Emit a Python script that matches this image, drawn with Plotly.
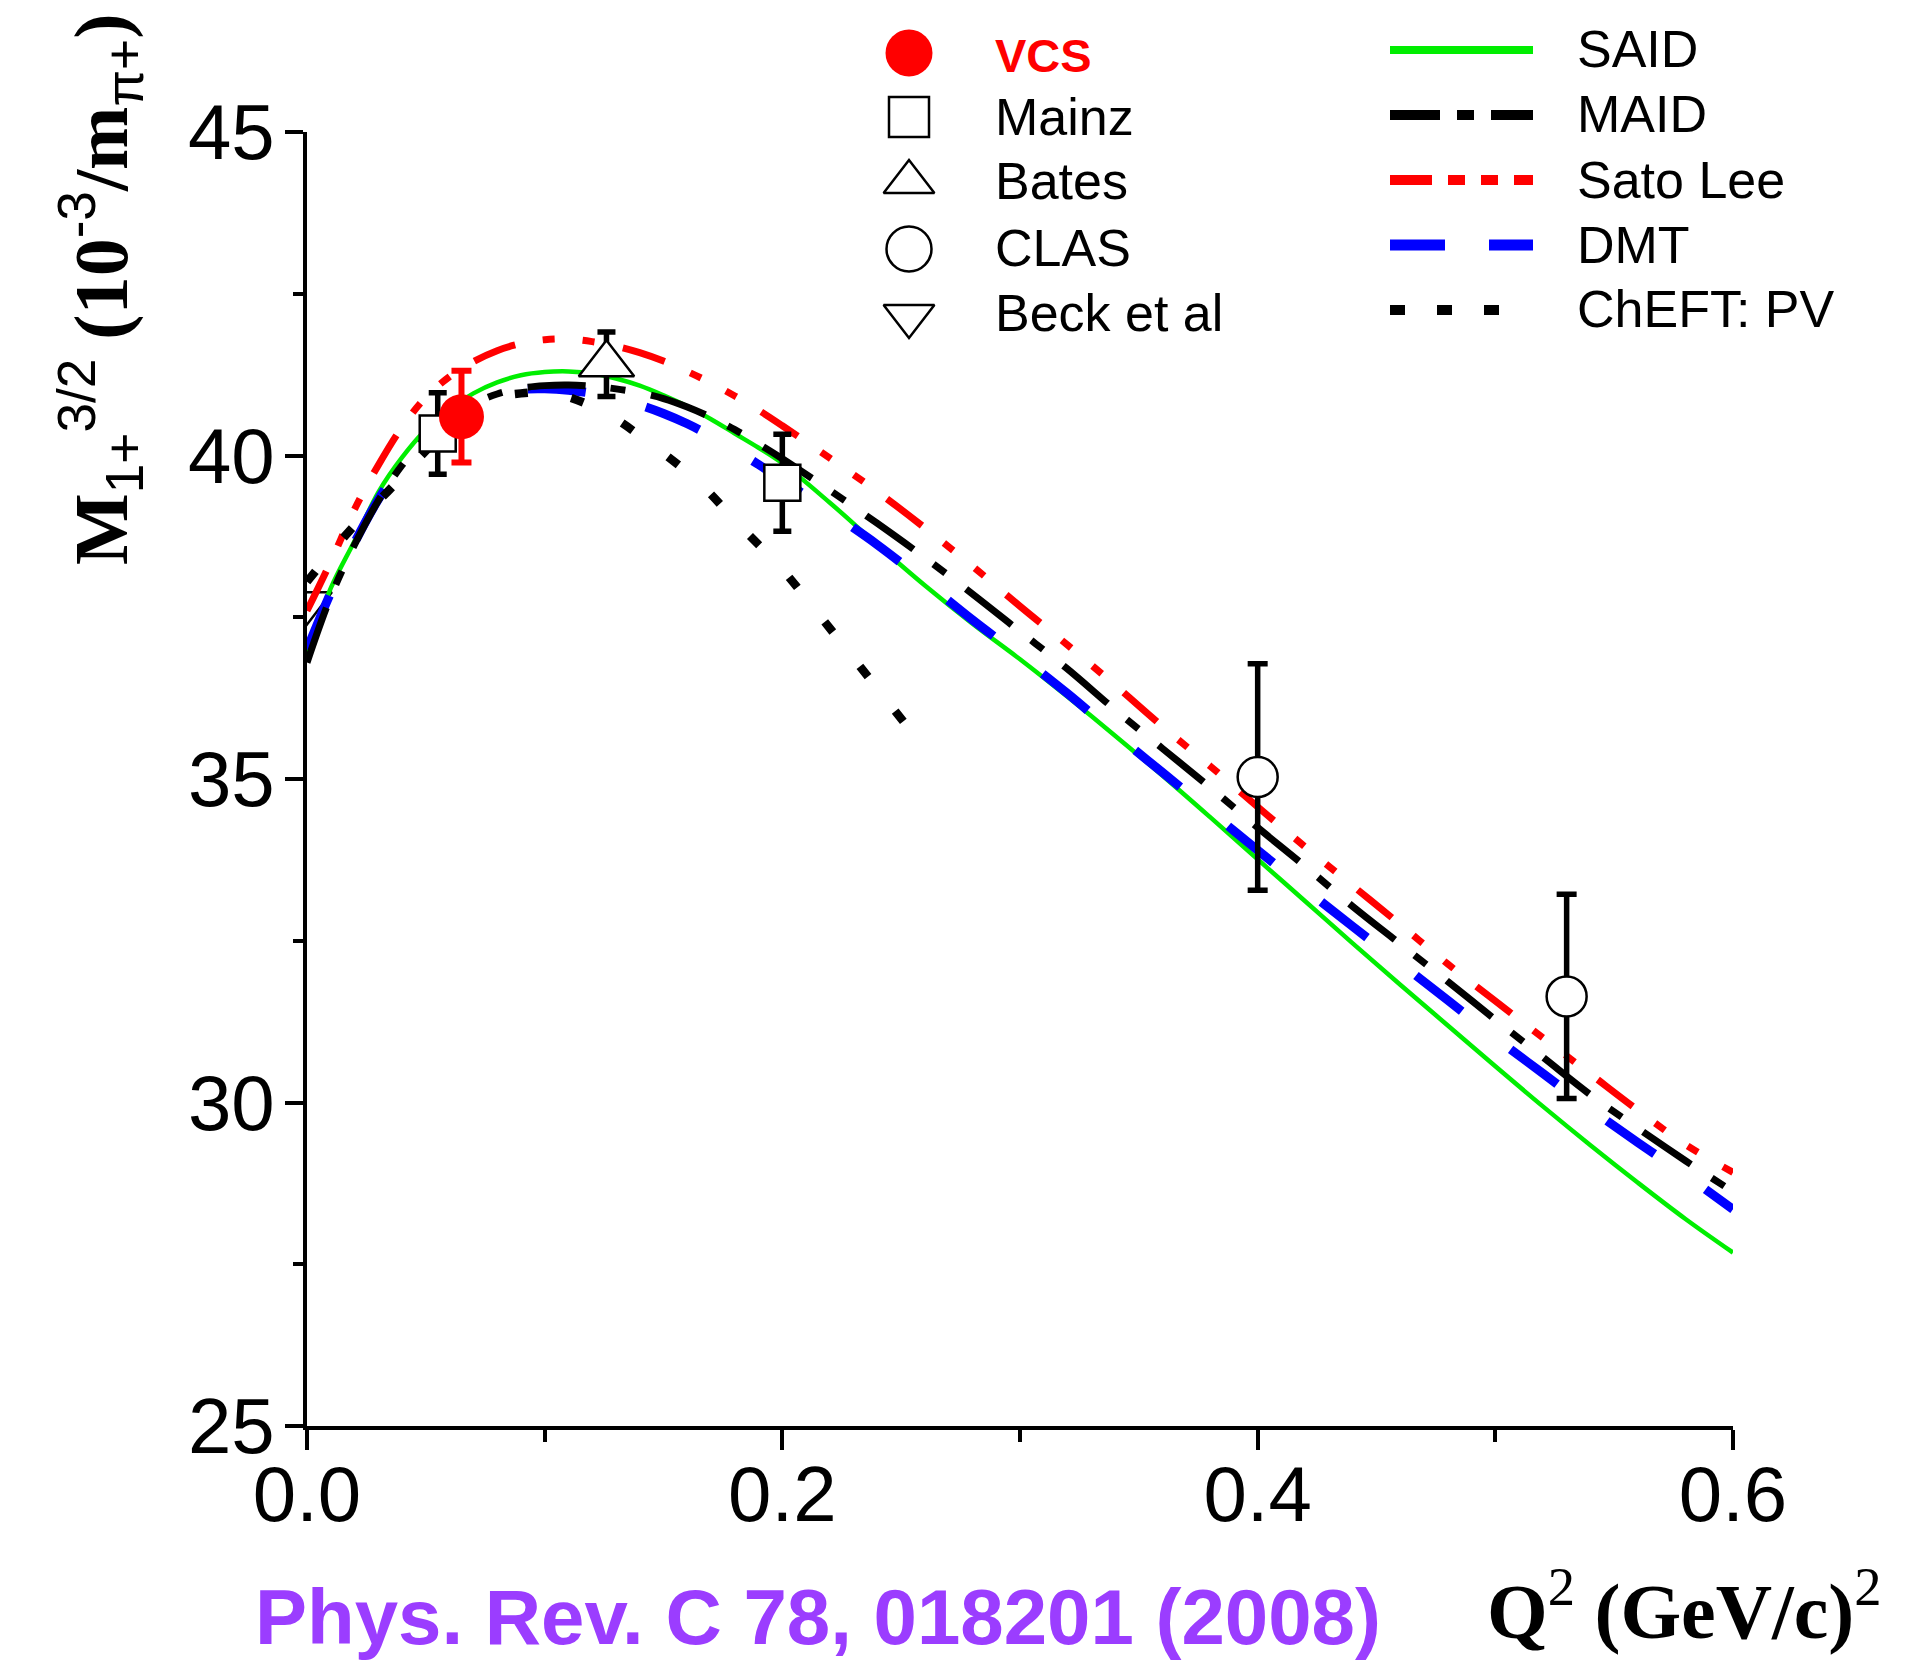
import plotly.graph_objects as go

W, H = 1932, 1671

# ---------------- data ----------------
# Q^2 grid (GeV/c)^2 for the model curves
q_model = [0.00, 0.01, 0.02, 0.03, 0.04, 0.05, 0.06, 0.07, 0.08, 0.09, 0.10,
           0.11, 0.12, 0.13, 0.14, 0.15, 0.16, 0.17, 0.18, 0.19, 0.20,
           0.22, 0.24, 0.26, 0.28, 0.30, 0.32, 0.34, 0.36, 0.38, 0.40,
           0.42, 0.44, 0.46, 0.48, 0.50, 0.52, 0.54, 0.56, 0.58, 0.60]

said = [36.95, 37.95, 38.68, 39.43, 39.97, 40.40, 40.72, 40.96, 41.13, 41.24, 41.29,
        41.30, 41.27, 41.19, 41.08, 40.93, 40.76, 40.56, 40.34, 40.12, 39.88,
        39.27, 38.62, 37.99, 37.40, 36.85, 36.27, 35.67, 35.05, 34.41, 33.76,
        33.11, 32.46, 31.82, 31.19, 30.56, 29.94, 29.34, 28.76, 28.20, 27.68]

maid = [36.80, 37.82, 38.62, 39.30, 39.85, 40.27, 40.58, 40.80, 40.95, 41.04, 41.08,
        41.09, 41.07, 41.03, 40.97, 40.88, 40.75, 40.59, 40.40, 40.18, 39.95,
        39.46, 38.95, 38.42, 37.86, 37.28, 36.70, 36.07, 35.47, 34.87, 34.25,
        33.65, 33.03, 32.45, 31.87, 31.28, 30.70, 30.12, 29.60, 29.10, 28.62]

sato_lee = [37.60, 38.36, 39.17, 39.85, 40.44, 40.90, 41.22, 41.45, 41.62, 41.73, 41.79,
            41.80, 41.76, 41.69, 41.59, 41.46, 41.30, 41.12, 40.92, 40.70, 40.46,
            39.96, 39.44, 38.88, 38.29, 37.67, 37.07, 36.45, 35.81, 35.20, 34.57,
            33.95, 33.35, 32.75, 32.14, 31.57, 31.00, 30.44, 29.88, 29.35, 28.92]

dmt = [37.00, 37.88, 38.65, 39.32, 39.86, 40.27, 40.58, 40.80, 40.95, 41.02, 41.03,
       41.01, 40.96, 40.88, 40.78, 40.65, 40.49, 40.30, 40.09, 39.86, 39.62,
       39.13, 38.62, 38.05, 37.46, 36.90, 36.32, 35.70, 35.10, 34.50, 33.90,
       33.30, 32.72, 32.15, 31.58, 31.00, 30.45, 29.90, 29.38, 28.88, 28.35]

q_cheft = [0.000, 0.018, 0.036, 0.046, 0.060, 0.076, 0.090, 0.105,
           0.125, 0.145, 0.165, 0.182, 0.199, 0.215, 0.232, 0.252]
cheft_pv = [38.05, 38.84, 39.52, 39.92, 40.42, 40.85, 40.96, 40.95,
            40.67, 40.17, 39.58, 38.92, 38.28, 37.56, 36.77, 35.84]

# measurements
q_vcs, m_vcs, e_vcs = [0.065], [40.60], [0.71]
q_mainz, m_mainz, e_mainz = [0.055, 0.200], [40.34, 39.58], [0.63, 0.75]
q_bates, m_bates, e_bates = [0.126], [41.41], [0.50]
q_clas, m_clas, e_clas = [0.400, 0.530], [35.03, 31.64], [1.75, 1.58]
q_beck, m_beck = [0.0], [37.72]

x_tickvals = [0.0, 0.2, 0.4, 0.6]
x_ticktext = ["0.0", "0.2", "0.4", "0.6"]
y_tickvals = [25, 30, 35, 40, 45]
y_ticktext = ["25", "30", "35", "40", "45"]

SANS = "Liberation Sans, Arial, sans-serif"
SERIF = "Liberation Serif, Times New Roman, serif"

GREEN, BLUE, RED, BLACK = "#00ee00", "#0000ff", "#ff0000", "#000000"

fig = go.Figure()

# photoproduction point sits under the curves
fig.add_trace(go.Scatter(
    x=q_beck, y=m_beck, mode="markers",
    marker=dict(symbol="triangle-down", size=43, color="white",
                line=dict(color=BLACK, width=2.5))))

# model curves
fig.add_trace(go.Scatter(x=q_model, y=said, mode="lines",
                         line=dict(color=GREEN, width=4.5, shape="spline")))
fig.add_trace(go.Scatter(x=q_model, y=dmt, mode="lines",
                         line=dict(color=BLUE, width=9, shape="spline",
                                   dash="58px,62px")))
fig.add_trace(go.Scatter(x=q_model, y=sato_lee, mode="lines",
                         line=dict(color=RED, width=7, shape="spline",
                                   dash="44px,28px,12px,28px,12px,29px")))
fig.add_trace(go.Scatter(x=q_model, y=maid, mode="lines",
                         line=dict(color=BLACK, width=7, shape="spline",
                                   dash="58px,25px,15px,26px")))
fig.add_trace(go.Scatter(x=q_cheft, y=cheft_pv, mode="lines",
                         line=dict(color=BLACK, width=8.5, shape="spline",
                                   dash="13px,44px")))

# measurements with error bars
fig.add_trace(go.Scatter(
    x=q_mainz, y=m_mainz, mode="markers",
    error_y=dict(type="data", array=e_mainz, color=BLACK, thickness=5.5, width=9),
    marker=dict(symbol="square", size=36, color="white",
                line=dict(color=BLACK, width=2.5))))
fig.add_trace(go.Scatter(
    x=q_bates, y=m_bates, mode="markers",
    error_y=dict(type="data", array=e_bates, color=BLACK, thickness=5.5, width=9),
    marker=dict(symbol="triangle-up", size=48, color="white",
                line=dict(color=BLACK, width=2.5))))
fig.add_trace(go.Scatter(
    x=q_clas, y=m_clas, mode="markers",
    error_y=dict(type="data", array=e_clas, color=BLACK, thickness=5.5, width=10),
    marker=dict(symbol="circle", size=40, color="white",
                line=dict(color=BLACK, width=2.5))))
fig.add_trace(go.Scatter(
    x=q_vcs, y=m_vcs, mode="markers",
    error_y=dict(type="data", array=e_vcs, color=RED, thickness=6, width=10),
    marker=dict(symbol="circle", size=45, color=RED, line=dict(width=0))))

# ---------------- key (drawn on a full-page pixel axis pair) ----------------
key_marker_x = 909
key_text_left_x = 993
key_line_x0 = 1390
key_text_right_x = 1575

left_key = [
    # label, symbol, size, fill, text colour, marker y, text y, bold
    ("VCS", "circle", 47, RED, RED, 53, 55, True),
    ("Mainz", "square", 40, "white", BLACK, 117, 117, False),
    ("Bates", "triangle-up", 44, "white", BLACK, 182, 181, False),
    ("CLAS", "circle", 45, "white", BLACK, 249, 248, False),
    ("Beck et al", "triangle-down", 44, "white", BLACK, 316, 313, False),
]
right_key = [
    # label, colour, width, dash, line y, text y, line end
    ("SAID", GREEN, 8, "solid", 50, 49, 1533),
    ("MAID", BLACK, 10, "50px,17px,17px,17px", 115, 114, 1533),
    ("Sato Lee", RED, 10, "42px,16px,17px,16px,17px,16px", 180, 180, 1533),
    ("DMT", BLUE, 11, "55px,44px", 245, 245, 1533),
    ("ChEFT: PV", BLACK, 10, "15px,32px", 310, 309, 1502),
]

annotations = []
for label, sym, size, fill, tcol, my, ty, bold in left_key:
    line_w = 0 if fill != "white" else 2.5
    fig.add_trace(go.Scatter(
        x=[key_marker_x], y=[my], xaxis="x2", yaxis="y2", mode="markers",
        marker=dict(symbol=sym, size=size, color=fill,
                    line=dict(color=BLACK, width=line_w))))
    annotations.append(dict(
        x=key_text_left_x, y=ty, xref="x2", yref="y2", xanchor="left",
        yanchor="middle", showarrow=False,
        text=f"<b>{label}</b>" if bold else label,
        font=dict(family=SANS, size=47 if bold else 52, color=tcol)))

for label, col, lw, dash, ly, ty, xend in right_key:
    fig.add_trace(go.Scatter(
        x=[key_line_x0, xend], y=[ly, ly], xaxis="x2", yaxis="y2",
        mode="lines", line=dict(color=col, width=lw, dash=dash)))
    annotations.append(dict(
        x=key_text_right_x, y=ty, xref="x2", yref="y2", xanchor="left",
        yanchor="middle", showarrow=False, text=label,
        font=dict(family=SANS, size=52, color=BLACK)))

# axis titles and reference
sub = '<span style="font-family:Liberation Sans;font-weight:normal">'
ytitle = (f"<b>M</b><sub>{sub}1+</span></sub><sup>{sub}3/2</span></sup>"
          f"<b> (10</b><sup>{sub}-3</span></sup><b>/m</b>"
          f"<sub>{sub}π+</span></sub><b>)</b>")
annotations.append(dict(
    x=100, y=290, xref="x2", yref="y2", xanchor="center", yanchor="middle",
    textangle=-90, showarrow=False, text=ytitle,
    font=dict(family=SERIF, size=76, color=BLACK)))
annotations.append(dict(
    x=1485, y=1657, xref="x2", yref="y2", xanchor="left", yanchor="bottom",
    showarrow=False,
    text="<b>Q</b><sup>2</sup><b> (GeV/c)</b><sup>2</sup>",
    font=dict(family=SERIF, size=78, color=BLACK)))
annotations.append(dict(
    x=253, y=1663, xref="x2", yref="y2", xanchor="left", yanchor="bottom",
    showarrow=False, text="<b>Phys. Rev. C 78, 018201 (2008)</b>",
    font=dict(family=SANS, size=78, color="#9b3dff")))

for tr in fig.data:
    tr.showlegend = False

axis_common = dict(
    showline=True, linewidth=3.5, linecolor=BLACK, ticks="outside",
    tickwidth=3.5, tickcolor=BLACK, showgrid=False, zeroline=False,
    tickfont=dict(family=SANS, size=78, color=BLACK), fixedrange=True,
    automargin=False)

fig.update_layout(
    width=W, height=H,
    margin=dict(l=0, r=0, t=0, b=0, pad=0, autoexpand=False),
    paper_bgcolor="white", plot_bgcolor="rgba(0,0,0,0)",
    showlegend=False,
    xaxis=dict(domain=[307 / W, 1733 / W], range=[0, 0.6],
               tickmode="array", tickvals=x_tickvals, ticktext=x_ticktext,
               ticklen=20, ticklabelstandoff=-22,
               minor=dict(dtick=0.1, tick0=0, ticks="outside", ticklen=12,
                          tickwidth=3.5, tickcolor=BLACK, showgrid=False),
               **axis_common),
    yaxis=dict(domain=[1 - 1426 / H, 1 - 132 / H], range=[25, 45],
               tickmode="array", tickvals=y_tickvals, ticktext=y_ticktext,
               ticklen=18, ticklabelstandoff=-5,
               minor=dict(dtick=2.5, tick0=25, ticks="outside", ticklen=10,
                          tickwidth=3.5, tickcolor=BLACK, showgrid=False),
               **axis_common),
    xaxis2=dict(domain=[0, 1], range=[0, W], visible=False, anchor="y2",
                fixedrange=True),
    yaxis2=dict(domain=[0, 1], range=[H, 0], visible=False, anchor="x2",
                fixedrange=True),
    annotations=annotations,
)

fig.write_html("out.html")
